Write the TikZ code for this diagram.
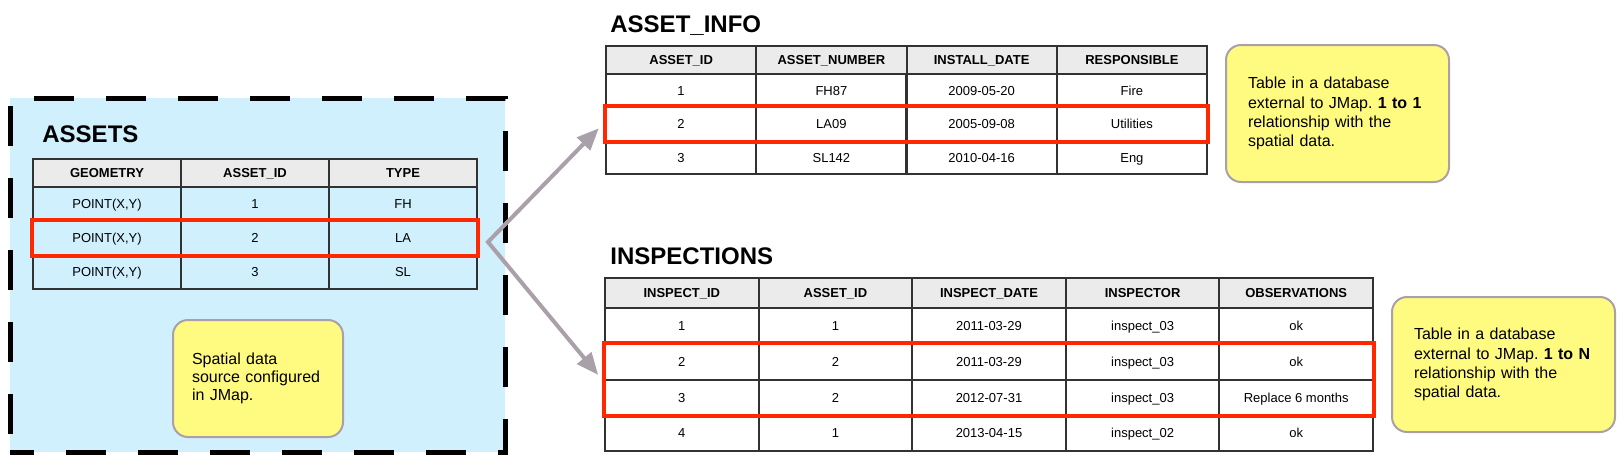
\documentclass[tikz,border=0pt]{standalone}
\usepackage{fontspec}
\setmainfont{Liberation Sans}
\usetikzlibrary{arrows.meta,fit}

\definecolor{assetblue}{RGB}{207,240,252}
\definecolor{headgray}{RGB}{235,235,235}
\definecolor{tableline}{RGB}{50,50,50}
\definecolor{selred}{RGB}{255,40,0}
\definecolor{notefill}{RGB}{255,251,128}
\definecolor{noteline}{RGB}{170,160,170}

\tikzset{
  cell/.style={draw=tableline, line width=1pt, inner sep=0pt, text height=4.7pt, text depth=0pt, font=\fontsize{6.5}{7.5}\selectfont},
  head/.style={cell, fill=headgray, font=\bfseries\fontsize{6.5}{7.5}\selectfont},
  title/.style={anchor=base west, inner sep=0pt, font=\bfseries\fontsize{12}{14}\selectfont},
  sel/.style={draw=selred, line width=2pt, inner sep=0pt},
  frame/.style={fill=assetblue, draw=black, line width=2.5pt, dash pattern=on 20pt off 16pt, dash phase=8pt},
  note/.style={draw=noteline, line width=1pt, fill=notefill, rounded corners=7.5pt, align=left, font=\frenchspacing\fontsize{8}{9}\selectfont},
  bignote/.style={note, font=\frenchspacing\fontsize{8}{9.6}\selectfont},
  link/.style={draw=noteline, line width=2pt, shorten <=3pt, shorten >=3pt, {Triangle[length=11pt,width=9pt]}-{Triangle[length=11pt,width=9pt]}}
}

\begin{document}
\begin{tikzpicture}[x=0.5pt,y=-0.5pt]
\useasboundingbox (0,0) rectangle (1624,461);

% spatial source
\node[frame, minimum width=247.5pt, minimum height=177pt] (assetsbox) at (257.5,275) {};
\node[title] (astitle) at (42,142) {ASSETS};
\foreach \t [count=\c] in {GEOMETRY,ASSET\_ID,TYPE}
    \node[head, minimum width=74pt, minimum height=14pt] (as-0-\c) at (-41+148*\c,173) {\t};
\foreach \ty [count=\r] in {FH,LA,SL} {
    \node[cell, minimum width=74pt, minimum height=17pt] (as-\r-1) at (107,170+34*\r) {POINT(X,Y)};
    \node[cell, minimum width=74pt, minimum height=17pt] (as-\r-2) at (255,170+34*\r) {\r};
    \node[cell, minimum width=74pt, minimum height=17pt] (as-\r-3) at (403,170+34*\r) {\ty};
}
\node[sel, fit=(as-2-1)(as-2-3)] (assel) {};
\node[note, text width=66pt, inner xsep=9.5pt, minimum height=58.5pt] (asnote) at (258,378.5) {Spatial data\\source configured\\in JMap.};

% 1 to 1 table
\node[title] (infotitle) at (610,32) {ASSET\_INFO};
\foreach \t [count=\c] in {ASSET\_ID,ASSET\_NUMBER,INSTALL\_DATE,RESPONSIBLE}
    \node[head, minimum width=75.125pt, minimum height=14pt] (ai-0-\c) at (530.9+150.25*\c,60) {\t};
\foreach \n/\d/\w [count=\r] in {FH87/2009-05-20/Fire,LA09/2005-09-08/Utilities,SL142/2010-04-16/Eng} {
    \node[cell, minimum width=75.125pt, minimum height=16.67pt] (ai-\r-1) at (681.1,57.33+33.33*\r) {\r};
    \node[cell, minimum width=75.125pt, minimum height=16.67pt] (ai-\r-2) at (831.4,57.33+33.33*\r) {\n};
    \node[cell, minimum width=75.125pt, minimum height=16.67pt] (ai-\r-3) at (981.6,57.33+33.33*\r) {\d};
    \node[cell, minimum width=75.125pt, minimum height=16.67pt] (ai-\r-4) at (1131.9,57.33+33.33*\r) {\w};
}
\node[sel, fit=(ai-2-1)(ai-2-4)] (infosel) {};
\node[bignote, text width=89.5pt, inner xsep=11pt, minimum height=68.5pt] (infonote) at (1337.5,113.5) {Table in a database\\external to JMap. \textbf{1 to 1}\\relationship with the\\spatial data.};

% 1 to N table
\node[title] (insptitle) at (610,264) {INSPECTIONS};
\foreach \t [count=\c] in {INSPECT\_ID,ASSET\_ID,INSPECT\_DATE,INSPECTOR,OBSERVATIONS}
    \node[head, minimum width=76.8pt, minimum height=15pt] (in-0-\c) at (528.2+153.6*\c,293) {\t};
\foreach \a/\d/\p/\o [count=\r] in {1/2011-03-29/inspect\_03/ok,2/2011-03-29/inspect\_03/ok,2/2012-07-31/inspect\_03/Replace 6 months,1/2013-04-15/inspect\_02/ok} {
    \node[cell, minimum width=76.8pt, minimum height=17.875pt] (in-\r-1) at (681.8,290.125+35.75*\r) {\r};
    \node[cell, minimum width=76.8pt, minimum height=17.875pt] (in-\r-2) at (835.4,290.125+35.75*\r) {\a};
    \node[cell, minimum width=76.8pt, minimum height=17.875pt] (in-\r-3) at (989,290.125+35.75*\r) {\d};
    \node[cell, minimum width=76.8pt, minimum height=17.875pt] (in-\r-4) at (1142.6,290.125+35.75*\r) {\p};
    \node[cell, minimum width=76.8pt, minimum height=17.875pt] (in-\r-5) at (1296.2,290.125+35.75*\r) {\o};
}
\node[sel, fit=(in-2-1)(in-3-5)] (inspsel) {};
\node[bignote, text width=89.5pt, inner xsep=11pt, minimum height=67.5pt] (inspnote) at (1503.5,364.5) {Table in a database\\external to JMap. \textbf{1 to N}\\relationship with the\\spatial data.};

\coordinate (apex) at ([xshift=4pt,yshift=-2pt]assel.east);
\draw[link] (infosel.west) -- (apex) -- (inspsel.west);
\end{tikzpicture}
\end{document}
